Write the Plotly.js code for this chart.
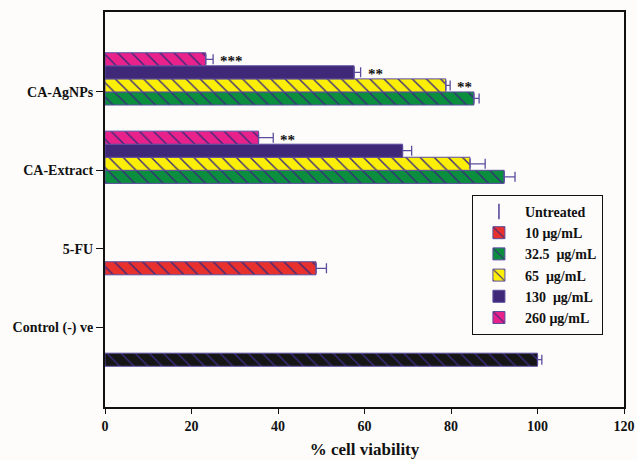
<!DOCTYPE html>
<html>
<head>
<meta charset="utf-8">
<script src="https://cdn.plot.ly/plotly-3.0.1.min.js"></script>
<style>html,body{margin:0;padding:0;background:#fdfcfa;}#chart{width:637px;height:460px;}</style>
</head>
<body>
<div id="chart"></div>
<script>
// ---- data ----
const categories = ['Control (-) ve', '5-FU', 'CA-Extract', 'CA-AgNPs'];
const seriesNames = ['Untreated', '10 μg/mL', '32.5\u00a0 μg/mL', '65\u00a0 μg/mL', '130\u00a0 μg/mL', '260 μg/mL'];
const untreated    = [100,  null, null, null];
const untreatedErr = [1.0,  0,    0,    0];
const conc10       = [null, 48.8, null, null];
const conc10Err    = [0,    2.4,  0,    0];
const conc32_5     = [null, null, 92.3, 85.3];
const conc32_5Err  = [0,    0,    2.5,  1.2];
const conc65       = [null, null, 84.4, 78.8];
const conc65Err    = [0,    0,    3.5,  1.0];
const conc130      = [null, null, 68.8, 57.6];
const conc130Err   = [0,    0,    2.1,  1.5];
const conc260      = [null, null, 35.5, 23.3];
const conc260Err   = [0,    0,    3.4,  1.7];
const sig65        = [null, null, null, '**'];
const sig130       = [null, null, null, '**'];
const sig260       = [null, null, '**', '***'];
const xTicks       = [0, 20, 40, 60, 80, 100, 120];

// ---- styling ----
const FONT = 'Liberation Serif, Times New Roman, serif';
const EDGE = '#5b4c9e';
const HATCH = '#3a2a7c';
const series = [
  {v: untreated, e: untreatedErr, color: '#161616', hatch: '\\', name: seriesNames[0], legend: false},
  {v: conc10,    e: conc10Err,    color: '#e8302c', hatch: '\\', name: seriesNames[1], legend: true},
  {v: conc32_5,  e: conc32_5Err,  color: '#0b8f3f', hatch: '\\', name: seriesNames[2], legend: true},
  {v: conc65,    e: conc65Err,    color: '#fbef0a', hatch: '\\', name: seriesNames[3], legend: true},
  {v: conc130,   e: conc130Err,   color: '#402878', hatch: '',   name: seriesNames[4], legend: true},
  {v: conc260,   e: conc260Err,   color: '#e8228a', hatch: '\\', name: seriesNames[5], legend: true}
];

const traces = [];
series.forEach((s, i) => {
  traces.push({
    type: 'bar', orientation: 'h', y: categories, x: s.v, name: s.name,
    showlegend: s.legend,
    marker: {color: s.color, line: {color: EDGE, width: 1},
             pattern: {shape: s.hatch, fgcolor: HATCH, bgcolor: s.color, size: 10, solidity: 0.14}},
    error_x: {type: 'data', symmetric: false, array: s.e, arrayminus: s.e.map(() => 0),
              color: EDGE, thickness: 1.3, width: 5},
    hoverinfo: 'x+y'
  });
  if (i === 0) {
    // legend entry for Untreated: thin vertical line symbol
    traces.push({type: 'scatter', mode: 'markers', x: [null], y: [null], name: s.name,
                 marker: {symbol: 'line-ns-open', size: 11, color: EDGE, line: {color: EDGE, width: 1.6}},
                 showlegend: true, hoverinfo: 'skip'});
  }
});

// significance marks placed just right of error bar ends
const annotations = [];
const sigSets = [[sig65, conc65, conc65Err, 3], [sig130, conc130, conc130Err, 4], [sig260, conc260, conc260Err, 5]];
sigSets.forEach(([sig, vals, errs, slot]) => {
  sig.forEach((t, ci) => {
    if (!t) return;
    annotations.push({
      x: vals[ci] + errs[ci], y: ci + (slot - 2.5) / 6, xref: 'x', yref: 'y',
      text: t, showarrow: false, xanchor: 'left', yanchor: 'middle', xshift: 5, yshift: -2,
      font: {family: FONT, size: 15, color: '#111', weight: 'bold'}
    });
  });
});

const layout = {
  width: 637, height: 460,
  margin: {l: 105, r: 13, t: 12, b: 53},
  paper_bgcolor: '#fdfcfa', plot_bgcolor: '#fdfcfa',
  barmode: 'group', bargap: 0, bargroupgap: 0,
  font: {family: FONT, color: '#111', size: 14},
  xaxis: {
    range: [0, 120], tickvals: xTicks, ticks: 'outside', ticklen: 5, tickwidth: 1, tickcolor: '#111',
    showgrid: false, zeroline: false, showline: true, linewidth: 2, linecolor: '#111', mirror: true,
    tickfont: {family: FONT, size: 14, color: '#111', weight: 'bold'},
    title: {text: '% cell viability', font: {family: FONT, size: 17, color: '#111', weight: 'bold'}, standoff: 10}
  },
  yaxis: {
    type: 'category', categoryorder: 'array', categoryarray: categories, range: [-1.02, 4.02],
    ticks: 'outside', ticklen: 7, tickwidth: 1, tickcolor: '#111',
    showgrid: false, zeroline: false, showline: true, linewidth: 2, linecolor: '#111', mirror: true,
    tickfont: {family: FONT, size: 14, color: '#111', weight: 'bold'}
  },
  legend: {
    x: 0.707, y: 0.537, xanchor: 'left', yanchor: 'top', traceorder: 'normal',
    bordercolor: '#111', borderwidth: 1, bgcolor: '#fdfcfa', itemwidth: 42,
    font: {family: FONT, size: 14, color: '#111', weight: 'bold'}
  },
  annotations: annotations,
  showlegend: true
};

Plotly.newPlot('chart', traces, layout, {displayModeBar: false, staticPlot: true});
</script>
</body>
</html>
